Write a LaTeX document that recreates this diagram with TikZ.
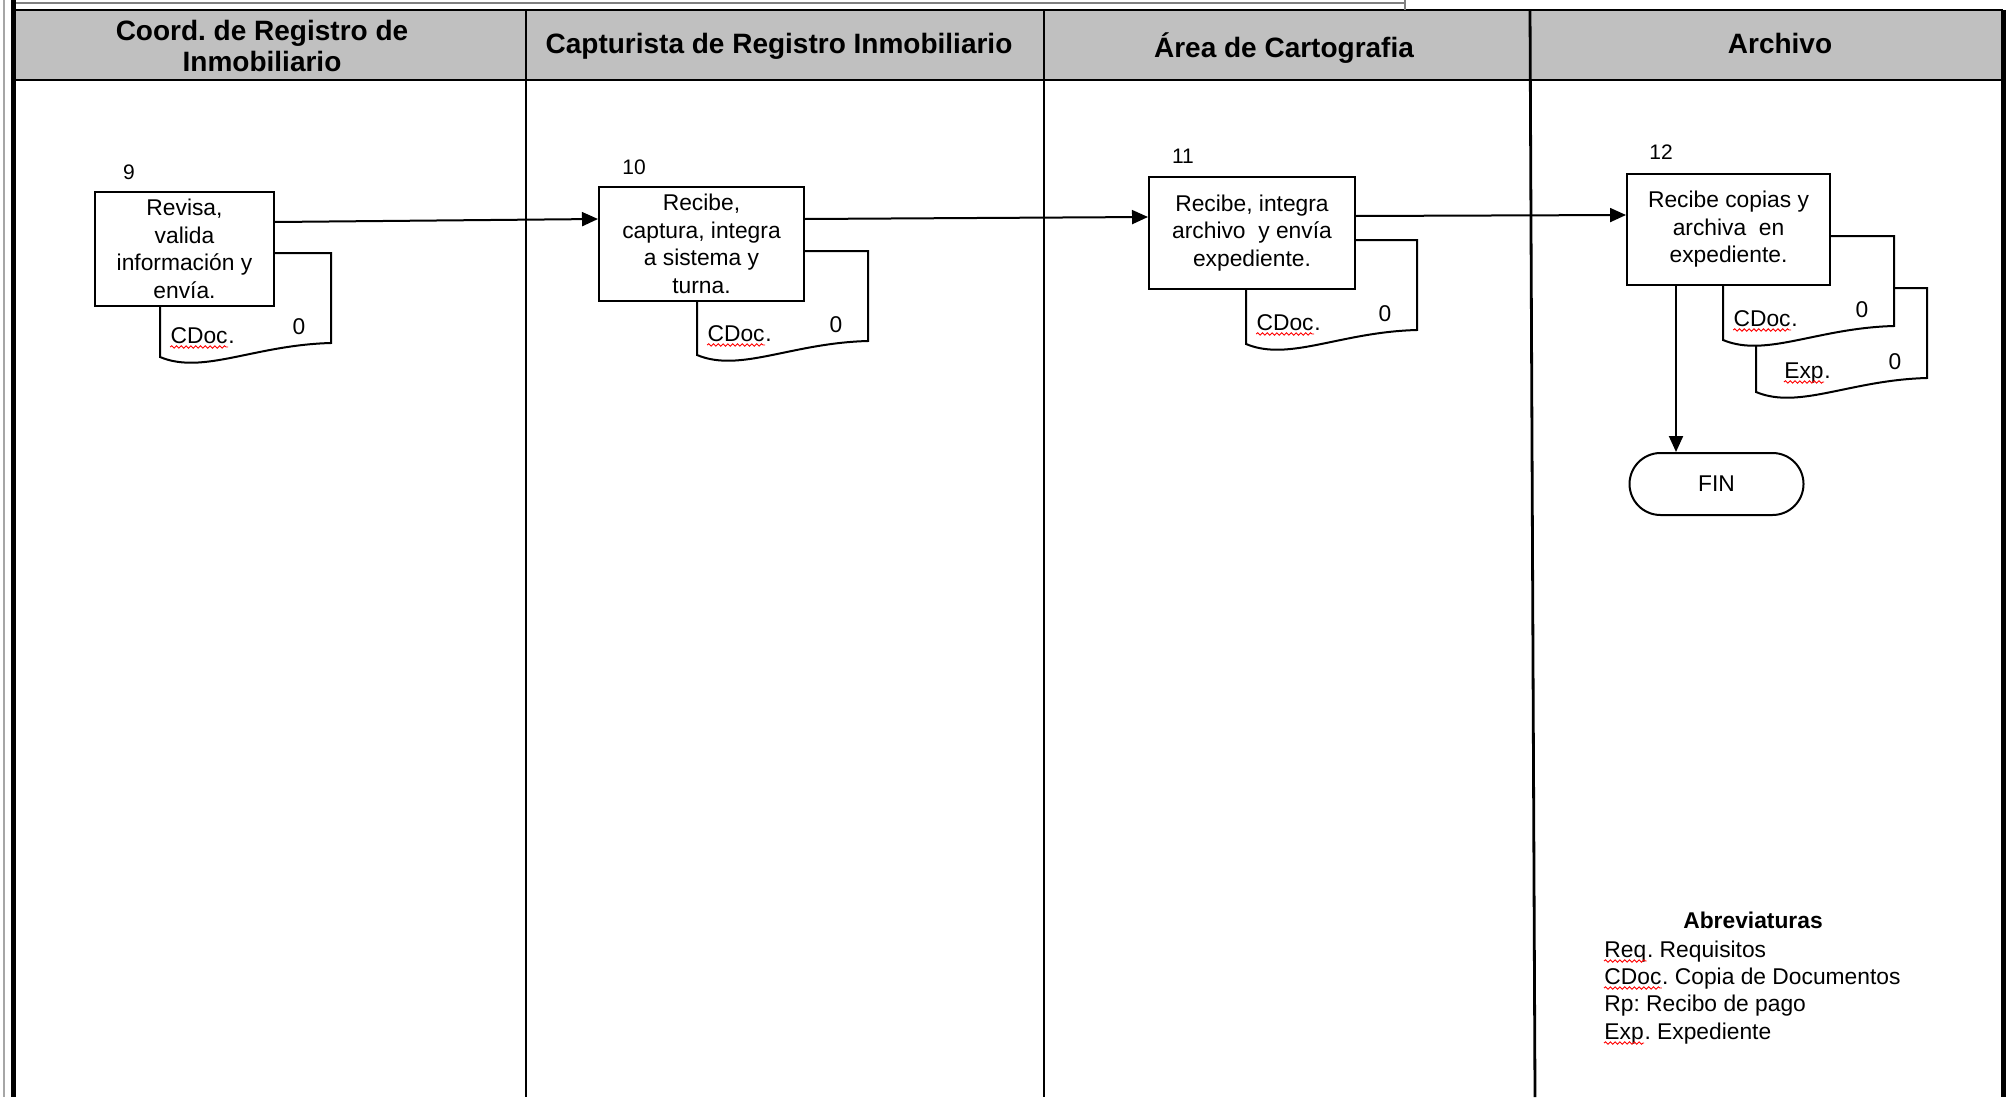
\documentclass[tikz,border=0pt]{standalone}
\usepackage{fontspec}
\setmainfont{Liberation Sans}
\usepackage{tikz}
\usetikzlibrary{arrows.meta,positioning,decorations.pathmorphing}
\definecolor{grisencabezado}{HTML}{C0C0C0}
\frenchspacing

\begin{document}
\begin{tikzpicture}[x=0.5pt,y=-0.5pt]
\tikzstyle{proceso}=[draw, fill=white, line width=1pt, shape=rectangle, inner sep=0pt, align=center, font=\fontsize{11.4}{13.8}\selectfont]
\tikzstyle{numero}=[inner sep=0pt, font=\fontsize{10.5}{12}\selectfont]
\tikzstyle{texto}=[inner sep=0pt, font=\fontsize{11.4}{13.8}\selectfont]
\tikzstyle{encabezado}=[align=center, font=\fontsize{14}{15.5}\selectfont\bfseries]
\tikzstyle{terminal}=[draw, line width=1pt, rounded corners=15.5pt, minimum width=87pt, minimum height=31pt, font=\fontsize{11.4}{13.8}\selectfont]
\tikzstyle{flecha}=[line width=1pt, -{Triangle[length=8pt,width=7pt]}]
\tikzstyle{carril}=[line width=1.4pt]
\tikzstyle{ortografia}=[red, line width=0.45pt, decorate, decoration={snake, amplitude=0.6pt, segment length=2.4pt}]
\tikzset{documento/.pic={
  \draw[fill=white, line width=1pt] (0,0) -- (171,0) -- (171,90) .. controls (94,92) and (43,122) .. (0,104) -- cycle;
  \node[texto, anchor=base east] (-nombre) at (68,90) {#1};
  \node[texto, anchor=base west] (-punto) at (-nombre.base east) {.};
  \draw[ortografia] ([yshift=-2pt]-nombre.base west) -- ([yshift=-2pt]-nombre.base east);
  \node[texto] (-cero) at (139,74) {0};
}}
\useasboundingbox (0,0) rectangle (2011,1097);

% marco y carriles
\fill[grisencabezado] (13,10) rectangle (2002,80);
\draw[line width=1.2pt] (13,10) rectangle (2002,80);
\draw[gray, line width=0.8pt] (13,3) -- (1405,3);
\draw[gray, line width=0.8pt] (1405,0) -- (1405,10);
\draw[gray!70, line width=1pt] (4,0) -- (4,1097);
\draw[line width=2.5pt] (13,0) -- (13,1097);
\draw[line width=2.5pt] (2003,10) -- (2003,1097);
\draw[carril] (526,10) -- (526,1097);
\draw[carril] (1044,10) -- (1044,1097);
\draw[carril] (1530,10) -- (1535,1097);

\node[encabezado] (h1) at (262,46) {Coord. de Registro de\\Inmobiliario};
\node[encabezado] (h2) at (779,46) {Capturista de Registro Inmobiliario};
\node[encabezado] (h3) at (1284,48) {Área de Cartografia};
\node[encabezado] (h4) at (1780,43) {Archivo};

% documentos (detras de las actividades)
\pic (d9) at (160,253) {documento=CDoc};
\pic (d10) at (697,251) {documento=CDoc};
\pic (d11) at (1246,240) {documento=CDoc};
\pic (d12b) at (1756,288) {documento=Exp};
\pic (d12a) at (1723,236) {documento=CDoc};

% actividades
\node[proceso, minimum width=89.5pt, minimum height=57pt] (9) at (184.5,249) {Revisa,\\valida\\información y\\envía.};
\node[proceso, minimum width=102.5pt, minimum height=57pt] (10) at (701.5,244) {Recibe,\\captura, integra\\a sistema y\\turna.};
\node[proceso, minimum width=103pt, minimum height=56pt] (11) at (1252,233) {Recibe, integra\\archivo\ \ y envía\\expediente.};
\node[proceso, minimum width=101.5pt, minimum height=55.5pt] (12) at (1728.5,229.5) {Recibe copias y\\archiva\ \ en\\expediente.};
\node[terminal, below=83pt of 12, xshift=-6pt] (fin) {FIN};

\node[numero, above=5.5pt of 9.north west, xshift=17.5pt] (n9) {9};
\node[numero, above=5.5pt of 10.north west, xshift=18pt] (n10) {10};
\node[numero, above=6pt of 11.north west, xshift=17.5pt] (n11) {11};
\node[numero, above=6.5pt of 12.north west, xshift=17.5pt] (n12) {12};

\draw[flecha] ([yshift=13.5pt]9.east) -- ([yshift=12.5pt]10.west);
\draw[flecha] ([yshift=12.5pt]10.east) -- ([yshift=8pt]11.west);
\draw[flecha] ([yshift=8.5pt]11.east) -- ([yshift=7.25pt]12.west);
\draw[flecha] ([xshift=-26.25pt]12.south) -- ([xshift=-26.25pt]12.south |- fin.north);

% abreviaturas
\node[texto, font=\fontsize{11.4}{13.8}\selectfont\bfseries] (abrev) at (1753,920) {Abreviaturas};
\node[texto, anchor=base west] (req) at (1604,957) {Req};
\node[texto, anchor=base west] (req2) at (req.base east) {. Requisitos};
\node[texto, anchor=base west] (cdoc) at (1604,984) {CDoc};
\node[texto, anchor=base west] (cdoc2) at (cdoc.base east) {. Copia de Documentos};
\node[texto, anchor=base west] (rp) at (1604,1011) {Rp: Recibo de pago};
\node[texto, anchor=base west] (exp) at (1604,1039) {Exp};
\node[texto, anchor=base west] (exp2) at (exp.base east) {. Expediente};
\draw[ortografia] ([yshift=-2pt]req.base west) -- ([yshift=-2pt]req.base east);
\draw[ortografia] ([yshift=-2pt]cdoc.base west) -- ([yshift=-2pt]cdoc.base east);
\draw[ortografia] ([yshift=-2pt]exp.base west) -- ([yshift=-2pt]exp.base east);

\end{tikzpicture}
\end{document}
